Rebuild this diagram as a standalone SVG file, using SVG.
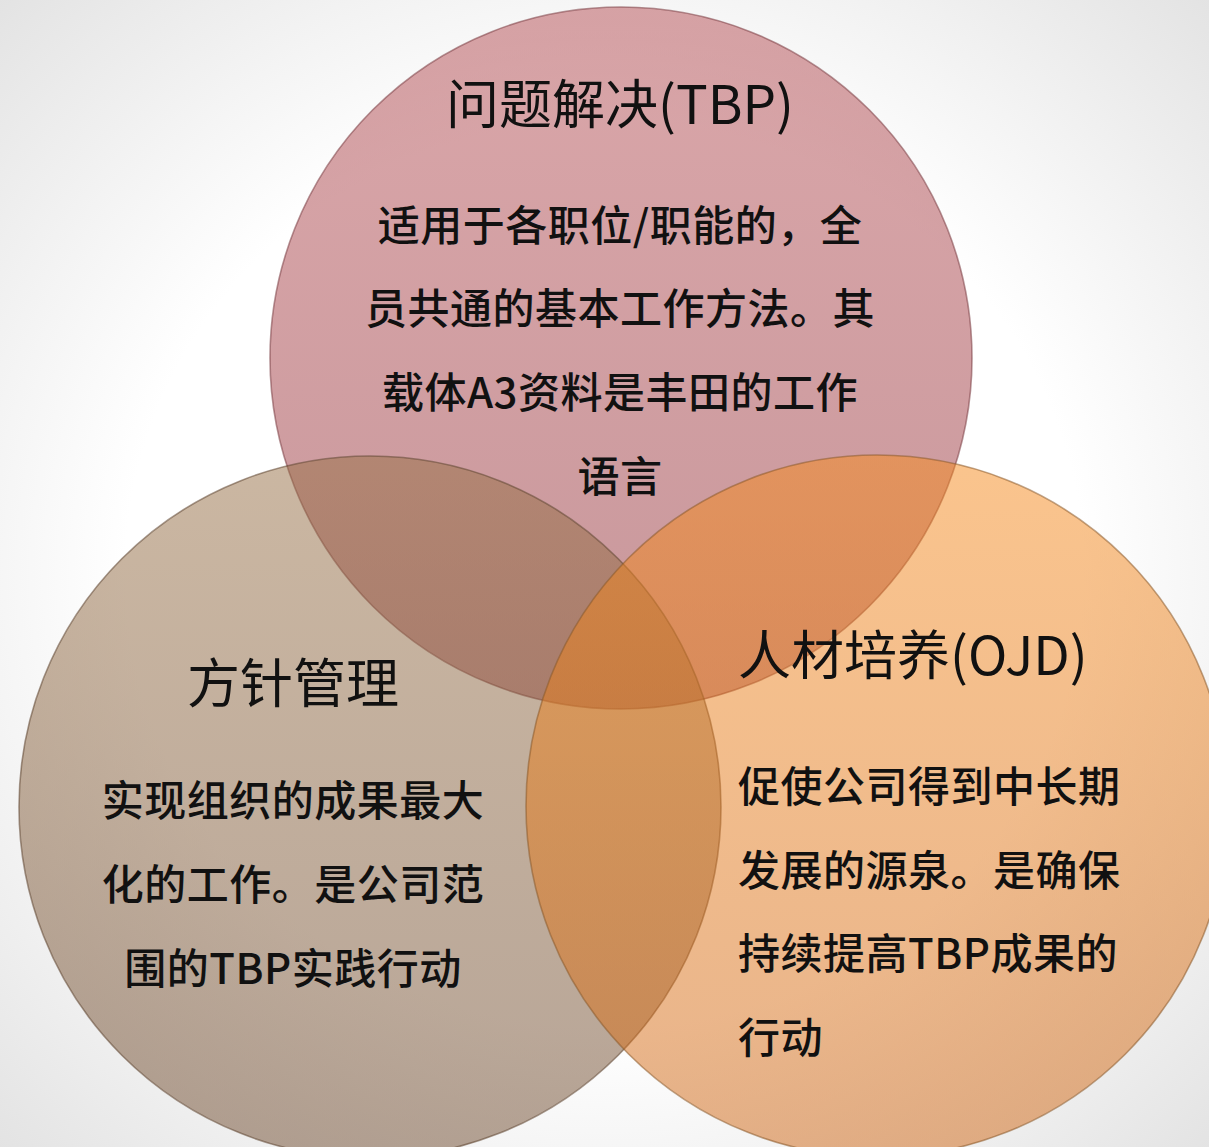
<svg xmlns="http://www.w3.org/2000/svg" width="1209" height="1147" viewBox="0 0 1209 1147">
  <defs>
    <radialGradient id="bg" cx="50%" cy="50%" r="72%">
      <stop offset="0.55" stop-color="#ffffff"/>
      <stop offset="1" stop-color="#e2e2e2"/>
    </radialGradient>
    <linearGradient id="gPink" x1="0" y1="0" x2="0" y2="1">
      <stop offset="0" stop-color="#b54d53"/>
      <stop offset="1" stop-color="#913139"/>
    </linearGradient>
    <linearGradient id="gTan" x1="0" y1="0" x2="0" y2="1">
      <stop offset="0" stop-color="#976f45"/>
      <stop offset="1" stop-color="#6f4b2f"/>
    </linearGradient>
    <linearGradient id="gOrange" x1="0" y1="0" x2="0" y2="1">
      <stop offset="0" stop-color="#f68a1c"/>
      <stop offset="1" stop-color="#cf6716"/>
    </linearGradient>
    <style>
      .circ { fill-opacity: 0.5; stroke-width: 1.6; stroke-opacity: 0.55; }
      .title { font-family: "Noto Sans CJK SC", "Noto Sans", sans-serif; font-size: 53px; fill: #111; }
      .body { font-family: "Noto Sans CJK SC", "Noto Sans", sans-serif; font-size: 42px; font-weight: 500; fill: #111; letter-spacing: 0.5px; }
    </style>
  </defs>
  <rect x="0" y="0" width="1209" height="1147" fill="url(#bg)"/>

  <g id="node-tbp">
    <circle class="circ" cx="621" cy="358" r="351" fill="url(#gPink)" stroke="#7a3c42"/>
  </g>
  <g id="node-hoshin">
    <circle class="circ" cx="370" cy="807" r="351" fill="url(#gTan)" stroke="#5e4632"/>
  </g>
  <g id="node-ojd">
    <circle class="circ" cx="877" cy="806" r="351" fill="url(#gOrange)" stroke="#8a5a2a"/>
  </g>

  <g id="text-tbp">
    <text class="title" x="620" y="124" text-anchor="middle">问题解决(TBP)</text>
    <text class="body" x="620" y="241" text-anchor="middle">适用于各职位/职能的，全</text>
    <text class="body" x="620" y="324" text-anchor="middle">员共通的基本工作方法。其</text>
    <text class="body" x="620" y="408" text-anchor="middle">载体A3资料是丰田的工作</text>
    <text class="body" x="620" y="492" text-anchor="middle">语言</text>
  </g>
  <g id="text-hoshin">
    <text class="title" x="293" y="703" text-anchor="middle">方针管理</text>
    <text class="body" x="293" y="816" text-anchor="middle">实现组织的成果最大</text>
    <text class="body" x="293" y="900" text-anchor="middle">化的工作。是公司范</text>
    <text class="body" x="293" y="984" text-anchor="middle">围的TBP实践行动</text>
  </g>
  <g id="text-ojd">
    <text class="title" x="738" y="675">人材培养(OJD)</text>
    <text class="body" x="738" y="802">促使公司得到中长期</text>
    <text class="body" x="738" y="886">发展的源泉。是确保</text>
    <text class="body" x="738" y="969">持续提高TBP成果的</text>
    <text class="body" x="738" y="1053">行动</text>
  </g>
</svg>
